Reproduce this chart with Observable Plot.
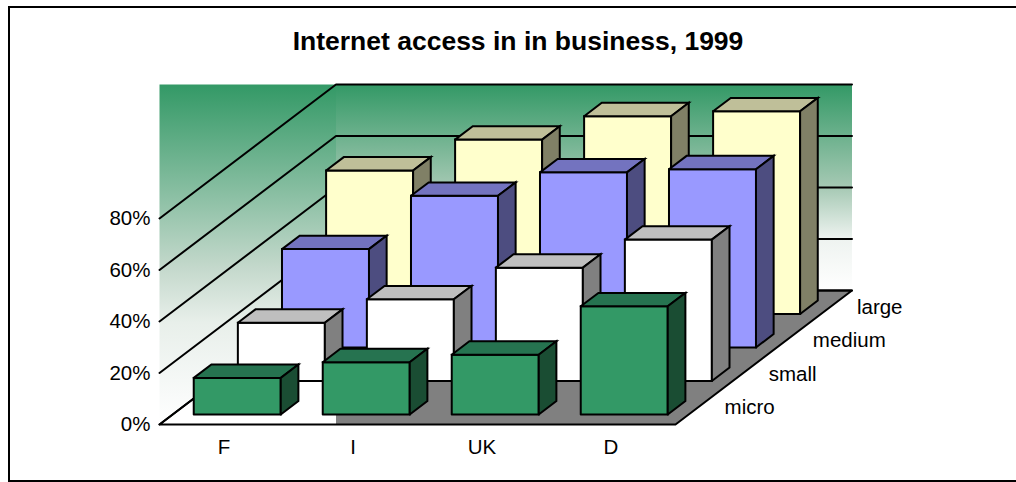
<!DOCTYPE html>
<html>
<head>
<meta charset="utf-8">
<script src="https://cdn.jsdelivr.net/npm/d3@7"></script>
<script src="https://cdn.jsdelivr.net/npm/@observablehq/plot@0.6"></script>
<style>
html,body{margin:0;padding:0;background:#fff;overflow:hidden}
#box{position:absolute;left:8px;top:6px;width:1008px;height:474px;border-left:2.5px solid #000;border-top:2.5px solid #000;border-bottom:2.5px solid #000;box-sizing:border-box;height:476px}
#title{position:absolute;left:0;top:0;width:1036px;height:60px;text-align:center;font:bold 26.5px/82px "Liberation Sans",Arial,sans-serif;color:#000}
#chart{position:absolute;left:0;top:60px}
#chart svg{display:block}
</style>
</head>
<body>
<div id="box"></div>
<div id="title">Internet access in in business, 1999</div>
<div id="chart"></div>
<script>
const countries = ["F", "I", "UK", "D"];
const sizes = ["micro", "small", "medium", "large"];
const micro = [14.2, 20.3, 23.2, 42];
const small = [22.6, 31.7, 44, 54.9];
const medium = [38.2, 58.9, 68, 69.2];
const large = [55.7, 67.7, 76.8, 78.7];
const seriesValues = [micro, small, medium, large];
const yTicks = [0, 20, 40, 60, 80];
const frontColors = ["#339966", "#ffffff", "#9999ff", "#ffffcc"];
const topColors = ["#267350", "#bfbfbf", "#7373bf", "#bfbf99"];
const sideColors = ["#1a4d33", "#808080", "#4d4d80", "#808066"];

// oblique 3D: one depth unit (the whole floor) moves by these amounts in x/y data units
const depthX = 176.5 / 129, depthY = 134 / 2.575;
const P = (u, d, v) => ({x: u + d * depthX, y: v + d * depthY});
const barW = 87 / 129, barD = 0.1, wallTop = 80;
const nC = countries.length;

const rows = [];
const poly = (id, fill, pts) => {
  [...pts, pts[0]].forEach((p) => rows.push({id, fill, ...P(...p)}));
};

const backWall = [[0,1,wallTop],[nC,1,wallTop],[nC,1,0],[0,1,0]];
const leftWall = [[0,0,wallTop + depthY],[0,1,wallTop],[0,1,0],[0,0,0]];
const floorAll = [[0,0,0],[nC,0,0],[nC,1,0],[0,1,0]];
const floorGrey = [[depthX,0,0],[nC,0,0],[nC,1,0],[0,1,0]];

const grid = [];
yTicks.forEach((v) => {
  grid.push({t: v, ...P(0,0,v)}, {t: v, ...P(0,1,v)}, {t: v, ...P(nC,1,v)});
});

sizes.map((s, i) => i).reverse().forEach((si) => {
  const d0 = 0.075 + si * 0.25, d1 = d0 + barD;
  countries.forEach((c, ci) => {
    const u0 = ci + (1 - barW) / 2, u1 = u0 + barW, v = seriesValues[si][ci];
    const id = sizes[si] + c;
    poly(id + "f", frontColors[si], [[u0,d0,0],[u1,d0,0],[u1,d0,v],[u0,d0,v]]);
    poly(id + "t", topColors[si], [[u0,d0,v],[u1,d0,v],[u1,d1,v],[u0,d1,v]]);
    poly(id + "s", sideColors[si], [[u1,d0,0],[u1,d1,0],[u1,d1,v],[u1,d0,v]]);
  });
});

const pts = (a) => [...a, a[0]].map((p) => P(...p));
const sw = 2;
const plot = Plot.plot({
  width: 1016, height: 422,
  marginLeft: 159, marginRight: 0, marginTop: 0, marginBottom: 58,
  x: {domain: [0, 857 / 129], range: [159, 1016], axis: null},
  y: {domain: [0, 364 / 2.575], range: [364, 0], axis: null},
  color: {type: "identity"},
  style: {fontFamily: "'Liberation Sans', Arial, sans-serif", background: "transparent", color: "#000"},
  marks: [
    Plot.line(pts(backWall), {x: "x", y: "y", fill: "url(#wallBack)", stroke: "none"}),
    Plot.line(pts(leftWall), {x: "x", y: "y", fill: "url(#wallLeft)", stroke: "none"}),
    Plot.line(pts(floorAll), {x: "x", y: "y", fill: "white", stroke: "none"}),
    Plot.line(pts(floorGrey), {x: "x", y: "y", fill: "#808080", stroke: "none"}),
    Plot.line(grid, {x: "x", y: "y", z: "t", stroke: "black", strokeWidth: sw}),
    Plot.line(pts(floorAll), {x: "x", y: "y", stroke: "black", strokeWidth: sw}),
    Plot.line(rows, {x: "x", y: "y", z: "id", fill: "fill", stroke: "black", strokeWidth: sw, strokeLinejoin: "miter", strokeMiterlimit: 10}),
    Plot.axisY({ticks: yTicks, tickFormat: (d) => d + "%", tickSize: 0, tickPadding: 9, fontSize: 20.5, anchor: "left", label: null}),
    Plot.axisX({ticks: countries.map((c, i) => i + 0.5), tickFormat: (d) => countries[d - 0.5], tickSize: 0, tickPadding: 15, fontSize: 20.5, anchor: "bottom", label: null}),
    Plot.text(sizes, {x: (s, i) => P(nC, 0.125 + i * 0.25, 0).x, y: (s, i) => P(nC, 0.125 + i * 0.25, 0).y, text: (s) => s, textAnchor: "start", dx: 27, dy: 0, fontSize: 20.5})
  ]
});
const ns = "http://www.w3.org/2000/svg";
const defs = document.createElementNS(ns, "defs");
const grad = (id, stops) => {
  const g = document.createElementNS(ns, "linearGradient");
  g.setAttribute("id", id); g.setAttribute("x1", 0); g.setAttribute("y1", 0); g.setAttribute("x2", 0); g.setAttribute("y2", 1);
  stops.forEach(([o, c]) => {
    const s = document.createElementNS(ns, "stop");
    s.setAttribute("offset", o); s.setAttribute("stop-color", c); g.appendChild(s);
  });
  defs.appendChild(g);
};
grad("wallBack", [[0, "#339966"], [0.5, "#a6c9b4"], [0.75, "#eef3f0"], [1, "#ffffff"]]);
grad("wallLeft", [[0, "#339966"], [0.535, "#c3d8cb"], [0.7, "#e8efea"], [0.91, "#f8faf9"], [1, "#ffffff"]]);
plot.insertBefore(defs, plot.firstChild);
document.getElementById("chart").appendChild(plot);
</script>
</body>
</html>
